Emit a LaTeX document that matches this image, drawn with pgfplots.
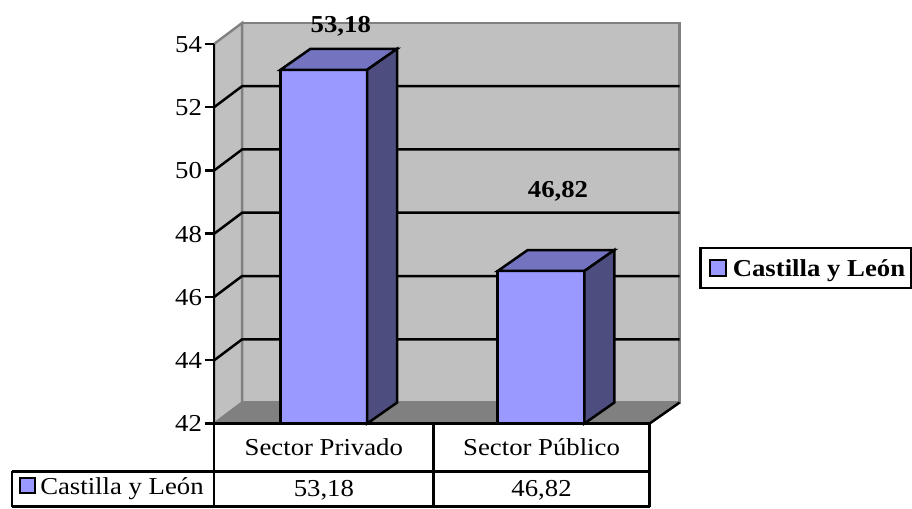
\documentclass[border=0pt]{standalone}
\usepackage{pgfplots}
\usepackage{pgfplotstable}
\pgfplotsset{compat=1.18}
\usepackage{fontspec}
\setmainfont{Liberation Serif}[FakeStretch=1.1]
\definecolor{frontc}{HTML}{9999FF}
\definecolor{topc}{HTML}{7373BF}
\definecolor{sidec}{HTML}{4D4D80}
\definecolor{wallc}{HTML}{C0C0C0}
\definecolor{floorc}{HTML}{808080}

\pgfplotstableread{
x v
325 53.18
543 46.82
}\datatab

\begin{document}
\begin{tikzpicture}[font=\fontsize{12.2}{14}\selectfont]
\begin{scope}[x=0.5pt,y=-0.5pt]
\path[use as bounding box] (0,0) rectangle (912,510);
% walls
\filldraw[fill=wallc, draw=floorc, line width=1.2pt] (243,23) rectangle (682,404);
\filldraw[fill=wallc, draw=floorc, line width=1.2pt] (215,44) -- (243,23) -- (243,404) -- (215,425) -- cycle;
\fill[floorc] (215,425) -- (243,404) -- (682,404) -- (652,425) -- cycle;
\draw[black, line width=1.25pt] (652,425) -- (682,404);
% grid
\foreach \py in {361.5,298,234.5,171,107.5}
  \draw[line width=1.25pt] (215,\py) -- (243,{\py-21}) -- (682,{\py-21});
\end{scope}

\begin{axis}[at={(0,0)}, anchor=north west, scale only axis,
  width=456pt, height=255pt,
  xmin=0, xmax=912, ymin=-2.677165, ymax=13.385827,
  axis lines=none, clip=false]
\addplot[ybar, bar width=87, bar shift=0pt, fill=frontc, draw=black,
  line width=1.25pt, y filter/.expression={y-42}] table[x=x,y=v] {\datatab};
\addplot[scatter, only marks, mark=*, mark size=0pt,
  y filter/.expression={y-42},
  visualization depends on={\thisrow{v}-42 \as \hv},
  scatter/@pre marker code/.code={%
    \filldraw[fill=topc, draw=black, line width=1.25pt]
      (-21.75pt,0pt) -- (21.75pt,0pt) -- (36.75pt,10.5pt) -- (-6.75pt,10.5pt) -- cycle;
    \filldraw[fill=sidec, draw=black, line width=1.25pt]
      (21.75pt,0pt) -- (36.75pt,10.5pt) -- (36.75pt,{10.5pt-\hv*15.875pt}) -- (21.75pt,{-\hv*15.875pt}) -- cycle;
  },
  scatter/@post marker code/.code={}
] table[x=x,y=v] {\datatab};
\end{axis}

\begin{scope}[x=0.5pt,y=-0.5pt]
% y ticks
\foreach \v/\py in {42/425,44/361.5,46/298,48/234.5,50/171,52/107.5,54/44} {
  \draw[line width=1.25pt] (206,\py) -- (215,\py);
  \node[anchor=base east, inner sep=0pt] at (203,{\py+8.5}) {\v};
}
\draw[line width=1.25pt] (215,44) -- (215,509);
% data table
\draw[line width=1.25pt] (215,425) -- (652,425);
\draw[line width=1.25pt] (12,473) -- (652,473);
\draw[line width=1.25pt] (12,508.5) -- (652,508.5);
\draw[line width=1.25pt] (435,425) -- (435,509);
\draw[line width=1.25pt] (652,425) -- (652,509);
\draw[line width=1.25pt] (12,473) -- (12,509);
\node[anchor=base, inner sep=0pt] at (325,457) {Sector Privado};
\node[anchor=base, inner sep=0pt] at (543.5,457) {Sector Público};
\node[anchor=base, inner sep=0pt] at (325,498) {53,18};
\node[anchor=base, inner sep=0pt] at (543.5,498) {46,82};
\filldraw[fill=frontc, draw=black, line width=0.8pt] (20,480) rectangle (35,495);
\node[anchor=base west, inner sep=0pt] at (40,496) {Castilla y León};
% data labels
\node[anchor=base, inner sep=0pt, font=\fontsize{12.2}{14}\selectfont\bfseries] at (342,33) {53,18};
\node[anchor=base, inner sep=0pt, font=\fontsize{12.2}{14}\selectfont\bfseries] at (560,198) {46,82};
% legend
\filldraw[fill=white, draw=black, line width=1.25pt] (703,249) rectangle (914,289);
\filldraw[fill=frontc, draw=black, line width=1pt] (713,261) rectangle (729,277);
\node[anchor=base west, inner sep=0pt, font=\fontsize{12.2}{14}\selectfont\bfseries] at (735,277) {Castilla y León};
\end{scope}
\end{tikzpicture}
\end{document}
